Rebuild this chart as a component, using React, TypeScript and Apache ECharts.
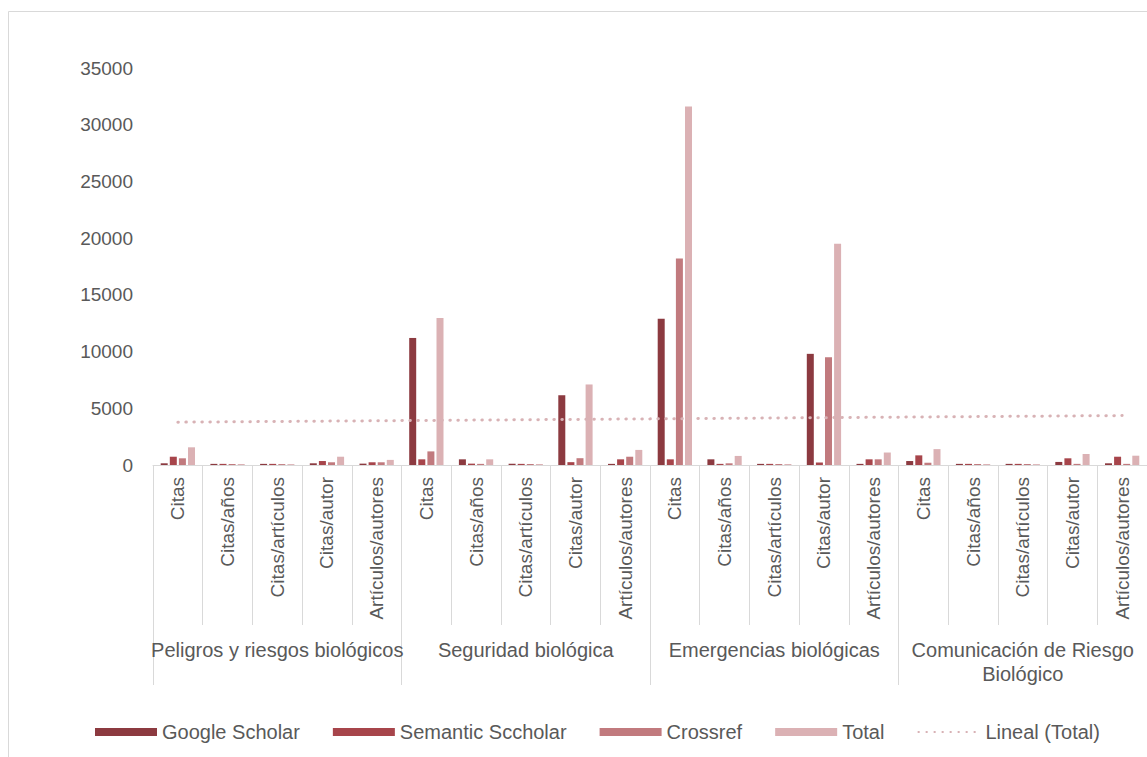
import React, { useEffect, useRef } from "react";
import * as echarts from "echarts";

const groups = [
  "Peligros y riesgos biológicos",
  "Seguridad biológica",
  "Emergencias biológicas",
  "Comunicación de Riesgo\nBiológico",
];
const metrics = ["Citas", "Citas/años", "Citas/artículos", "Citas/autor", "Artículos/autores"];
const categories = groups.flatMap(() => metrics);

const googleScholar = [150, 100, 100, 150, 120, 11200, 500, 100, 6150, 100, 12900, 500, 100, 9800, 100, 350, 100, 100, 270, 150];
const semanticScholar = [730, 100, 100, 350, 240, 500, 120, 100, 250, 500, 500, 100, 100, 220, 500, 850, 100, 100, 590, 730];
const crossref = [590, 90, 80, 240, 240, 1200, 100, 90, 600, 730, 18200, 150, 90, 9500, 500, 200, 90, 80, 100, 100];
const total = [1560, 90, 80, 730, 450, 12950, 500, 90, 7100, 1330, 31600, 800, 90, 19500, 1100, 1400, 90, 80, 970, 820];

const seriesNames = ["Google Scholar", "Semantic Sccholar", "Crossref", "Total"];
const trendName = "Lineal (Total)";
const colors = ["#8C3A40", "#A7454B", "#C17A7E", "#DBB1B4"];
const trendColor = "#D8B2B5";
const textColor = "#595959";
const lineColor = "#D9D9D9";
const font = "'Liberation Sans', Arial, sans-serif";

// Linear least-squares trend of the Total series (as the spreadsheet's "Lineal" trendline)
function linearTrend(values: number[]): number[] {
  const n = values.length;
  const xs = values.map((_, i) => i + 1);
  const mx = xs.reduce((a, b) => a + b, 0) / n;
  const my = values.reduce((a, b) => a + b, 0) / n;
  let sxy = 0;
  let sxx = 0;
  for (let i = 0; i < n; i++) {
    sxy += (xs[i] - mx) * (values[i] - my);
    sxx += (xs[i] - mx) * (xs[i] - mx);
  }
  const slope = sxy / sxx;
  return xs.map((x) => my + slope * (x - mx));
}

export default function App() {
  const ref = useRef<HTMLDivElement>(null);

  useEffect(() => {
    if (!ref.current) return;
    const chart = echarts.init(ref.current, null, { renderer: "svg" });
    const barData = [googleScholar, semanticScholar, crossref, total];

    chart.setOption({
      animation: false,
      backgroundColor: "#ffffff",
      textStyle: { fontFamily: font },
      graphic: [
        {
          type: "rect",
          silent: true,
          shape: { x: 8.5, y: 11.5, width: 1300, height: 900 },
          style: { fill: "none", stroke: lineColor, lineWidth: 1 },
        },
      ],
      grid: { left: 153, right: 0, top: 68, bottom: 292, containLabel: false },
      legend: {
        left: 90,
        top: 717,
        itemWidth: 62,
        itemHeight: 8,
        itemGap: 33,
        textStyle: { color: textColor, fontSize: 20, fontFamily: font },
        data: [
          ...seriesNames.map((n) => ({ name: n, icon: "rect" })),
          { name: trendName, itemStyle: { opacity: 0 } },
        ],
      },
      xAxis: [
        {
          type: "category",
          data: categories,
          position: "bottom",
          axisLine: { show: true, lineStyle: { color: lineColor, width: 1 } },
          axisTick: { show: true, interval: 0, length: 160, lineStyle: { color: lineColor } },
          axisLabel: {
            interval: 0,
            rotate: 90,
            margin: 12,
            color: textColor,
            fontSize: 19,
            fontFamily: font,
          },
        },
        {
          type: "category",
          data: groups,
          position: "bottom",
          offset: 160,
          axisLine: { show: false },
          axisTick: { show: true, interval: 0, length: 60, lineStyle: { color: lineColor } },
          axisLabel: {
            interval: 0,
            margin: 13,
            color: textColor,
            fontSize: 20,
            lineHeight: 24,
            fontFamily: font,
            align: "center",
          },
        },
      ],
      yAxis: {
        type: "value",
        min: 0,
        max: 35000,
        interval: 5000,
        axisLine: { show: false },
        axisTick: { show: false },
        splitLine: { show: false },
        axisLabel: {
          color: textColor,
          fontSize: 19,
          margin: 20,
          fontFamily: font,
          formatter: (v: number) => String(v),
        },
      },
      series: [
        ...seriesNames.map((name, i) => ({
          name,
          type: "bar",
          xAxisIndex: 0,
          data: barData[i],
          barWidth: 7,
          barGap: "30%",
          itemStyle: { color: colors[i] },
        })),
        {
          name: trendName,
          type: "line",
          xAxisIndex: 0,
          data: linearTrend(total),
          symbol: "none",
          z: 5,
          itemStyle: { color: trendColor },
          lineStyle: { color: trendColor, width: 3, type: [0.5, 7.5], cap: "round" },
        },
      ],
    });

    return () => chart.dispose();
  }, []);

  return (
    <div
      ref={ref}
      style={{ position: "absolute", left: 0, top: 0, width: 1147, height: 757 }}
    />
  );
}
